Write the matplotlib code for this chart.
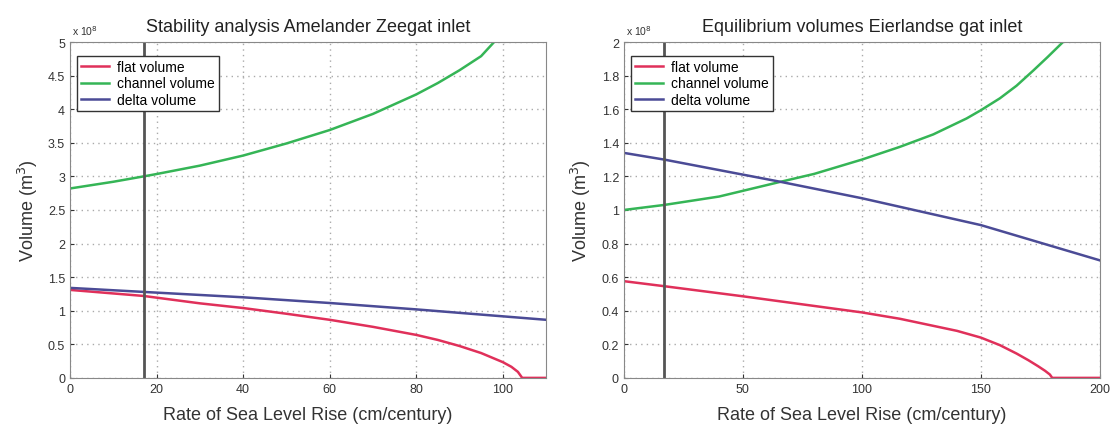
import numpy as np
import matplotlib
matplotlib.use('Agg')
import matplotlib.pyplot as plt

# 数据 (单位 1e8 m^3)
left_channel_x = [0, 10, 17, 20, 30, 40, 50, 60, 70, 80, 85, 90, 95, 98]
left_channel_y = [2.82, 2.92, 3.0, 3.035, 3.16, 3.31, 3.49, 3.69, 3.93, 4.22, 4.39, 4.58, 4.79, 5.0]
left_delta_x = [0, 17, 40, 60, 80, 110]
left_delta_y = [1.34, 1.28, 1.2, 1.115, 1.02, 0.865]
left_flat_x = [0, 17, 30, 40, 50, 60, 70, 80, 85, 90, 95, 100, 102, 103.5, 104.5, 110]
left_flat_y = [1.31, 1.22, 1.11, 1.04, 0.955, 0.865, 0.76, 0.64, 0.565, 0.475, 0.37, 0.235, 0.165, 0.09, 0, 0]

right_channel_x = [0, 17, 40, 65, 80, 100, 116, 130, 144, 150, 158, 165, 172, 178, 184.5]
right_channel_y = [1.0, 1.03, 1.08, 1.165, 1.215, 1.30, 1.376, 1.45, 1.545, 1.594, 1.665, 1.74, 1.83, 1.91, 2.0]
right_delta_x = [0, 17, 65, 100, 150, 200]
right_delta_y = [1.34, 1.30, 1.17, 1.07, 0.91, 0.70]
right_flat_x = [0, 17, 50, 100, 116, 130, 140, 150, 158, 165, 170, 174, 177, 179, 180, 200]
right_flat_y = [0.576, 0.546, 0.486, 0.39, 0.352, 0.31, 0.28, 0.24, 0.195, 0.145, 0.105, 0.07, 0.042, 0.02, 0, 0]

slr_now = 17

plt.rcParams['font.family'] = ['Liberation Sans', 'DejaVu Sans']

red = '#e0305a'
green = '#35b556'
blue = '#4b4b96'

fig = plt.figure(figsize=(11.2, 4.35), dpi=100)
ax1 = fig.add_axes([0.0625, 0.129, 0.425, 0.772])
ax2 = fig.add_axes([0.557, 0.129, 0.425, 0.772])

panels = [
    (ax1, 'Stability analysis Amelander Zeegat inlet', left_flat_x, left_flat_y,
     left_channel_x, left_channel_y, left_delta_x, left_delta_y, 110,
     np.arange(0, 5.01, 0.5), 5, [0, 20, 40, 60, 80, 100]),
    (ax2, 'Equilibrium volumes Eierlandse gat inlet', right_flat_x, right_flat_y,
     right_channel_x, right_channel_y, right_delta_x, right_delta_y, 200,
     np.arange(0, 2.01, 0.2), 2, [0, 50, 100, 150, 200]),
]

for ax, title, fx, fy, cx, cy, dx, dy, xmax, yt, ymax, xt in panels:
    ax.plot(fx, fy, color=red, lw=1.8, label='flat volume')
    ax.plot(cx, cy, color=green, lw=1.8, label='channel volume')
    ax.plot(dx, dy, color=blue, lw=1.8, label='delta volume')
    ax.axvline(slr_now, color='#555555', lw=2)
    ax.set_xlim(0, xmax)
    ax.set_ylim(0, ymax)
    ax.set_xticks(xt)
    ax.set_yticks(yt)
    ax.set_yticklabels(['%g' % round(v, 1) for v in yt])
    ax.grid(True, ls=(0, (1, 3)), color='#aaaaaa', lw=1)
    ax.tick_params(labelsize=9, colors='#333333', length=3, direction='in')
    for s in ax.spines.values():
        s.set_color('#888888')
    ax.set_title(title, fontsize=13, color='#222222', pad=8)
    ax.set_xlabel('Rate of Sea Level Rise (cm/century)', fontsize=13, color='#333333', labelpad=8)
    ax.set_ylabel('Volume (m$^3$)', fontsize=13, color='#333333', labelpad=6)
    ax.text(0.005, 1.015, r'x 10$^8$', transform=ax.transAxes, fontsize=7.5, color='#333333',
            ha='left', va='bottom')
    leg = ax.legend(loc='upper left', bbox_to_anchor=(0.015, 0.958), fontsize=10,
                    frameon=True, fancybox=False, framealpha=1, handlelength=2.0,
                    borderaxespad=0, labelspacing=0.15, borderpad=0.3, handletextpad=0.6)
    leg.get_frame().set_edgecolor('#333333')
    leg.get_frame().set_linewidth(1)

plt.savefig('out.png', dpi=100)
